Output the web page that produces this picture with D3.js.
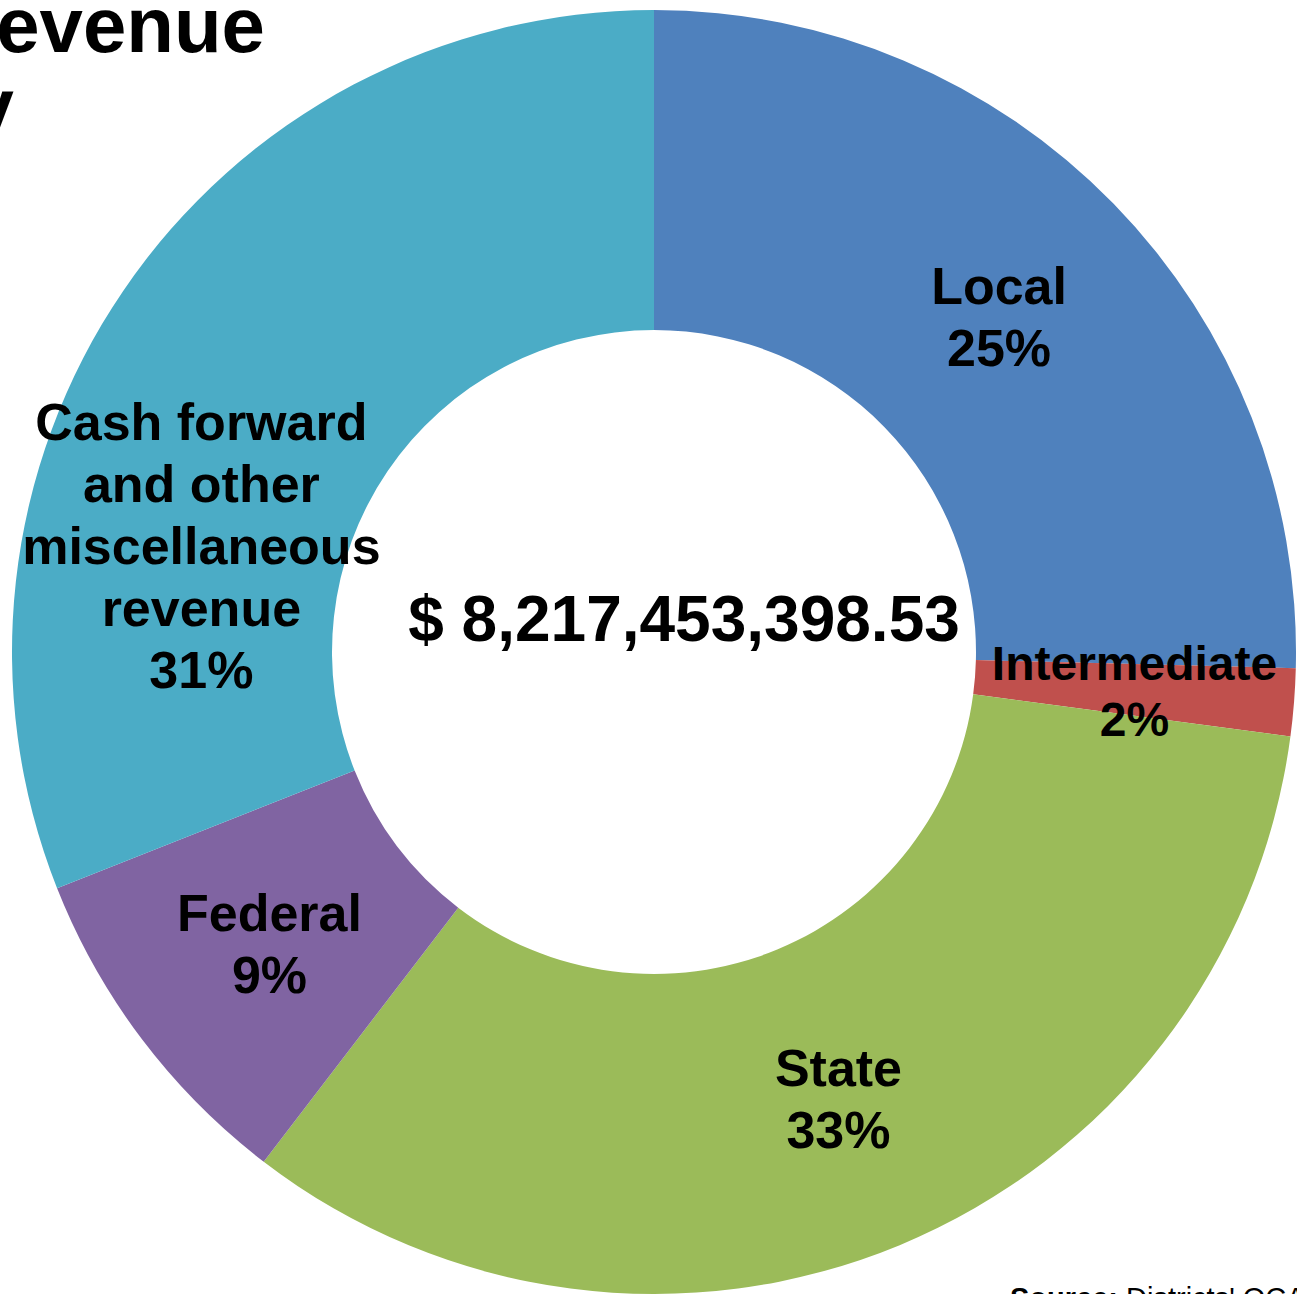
<!DOCTYPE html>
<html>
<head>
<meta charset="utf-8">
<script src="https://d3js.org/d3.v7.min.js"></script>
<style>
  body { margin: 0; background: #fff; overflow: hidden; }
  svg { display: block; font-family: "Liberation Sans", Arial, sans-serif; }
</style>
</head>
<body>
<div id="chart"></div>
<script>
const CTX = {
    SVG_W: 1297,
    SVG_H: 1294,
    CX: 654,
    CY: 652,
    R_OUT: 642,
    R_IN: 322
};

// data (share of total revenue, %)
const categories = ["Local", "Intermediate", "State", "Federal", "Cash forward and other miscellaneous revenue"];
const labelLines = [["Local"], ["Intermediate"], ["State"], ["Federal"], ["Cash forward", "and other", "miscellaneous", "revenue"]];
const shares = [25.4, 1.7, 33.3, 8.6, 31.0];
const pctLabels = ["25%", "2%", "33%", "9%", "31%"];
const colors = ["#4F81BD", "#C0504D", "#9BBB59", "#8064A2", "#4BACC6"];
const totalLabel = "$ 8,217,453,398.53";
const titleLines = ["Revenue", "Summary"];
const sourceBold = "Source:";
const sourceText = " Districts' OCAS reports";

// label nudges (the cash label was dragged off its centroid)
const labelShift = [[0, 0], [0, 0], [0, 0], [0, 0], [-54, 163]];
const labelSize = [52, 48, 52, 52, 52];

function buildChart() {
    const svg = d3.select("#chart").append("svg")
        .attr("width", CTX.SVG_W)
        .attr("height", CTX.SVG_H);

    const data = categories.map((c, i) => ({name: c, value: shares[i], i: i}));
    const pie = d3.pie().sort(null).value(d => d.value);
    const arc = d3.arc().innerRadius(CTX.R_IN).outerRadius(CTX.R_OUT);
    const color = d3.scaleOrdinal().domain(categories).range(colors);

    const g = svg.append("g").attr("transform", `translate(${CTX.CX},${CTX.CY})`);
    const arcs = pie(data);

    g.selectAll("path.slice")
        .data(arcs)
        .enter()
        .append("path")
        .attr("class", "slice")
        .attr("d", arc)
        .style("fill", d => color(d.data.name));

    // slice labels
    const lineH = 62;
    arcs.forEach(function (a) {
        const i = a.data.i;
        const c = arc.centroid(a);
        const lines = labelLines[i].concat([pctLabels[i]]);
        const x = c[0] + labelShift[i][0];
        const y = c[1] + labelShift[i][1];
        const fs = labelSize[i];
        const lh = i === 1 ? 56 : lineH;
        const t = g.append("text")
            .attr("text-anchor", "middle")
            .style("font-size", fs + "px")
            .style("font-weight", "bold")
            .style("fill", "#000");
        lines.forEach(function (ln, k) {
            t.append("tspan")
                .attr("x", x)
                .attr("y", y + (k - (lines.length - 1) / 2) * lh + fs * 0.38)
                .text(ln);
        });
    });

    // total in the hole
    g.append("text")
        .attr("x", 30)
        .attr("y", -11)
        .attr("text-anchor", "middle")
        .style("font-size", "64px")
        .style("font-weight", "bold")
        .style("fill", "#000")
        .text(totalLabel);

    // title, runs off the left edge
    const title = svg.append("text")
        .attr("text-anchor", "end")
        .style("font-size", "78px")
        .style("font-weight", "bold")
        .style("fill", "#000");
    title.append("tspan").attr("x", 265).attr("y", 52).text(titleLines[0]);
    title.append("tspan").attr("x", 14).attr("y", 133).text(titleLines[1]);

    // source note, cut at the bottom
    const src = svg.append("text")
        .attr("x", 1010)
        .attr("y", 1308)
        .style("font-size", "29px")
        .style("fill", "#000");
    src.append("tspan").style("font-weight", "bold").text(sourceBold);
    src.append("tspan").text(sourceText);
}

buildChart();
</script>
</body>
</html>
